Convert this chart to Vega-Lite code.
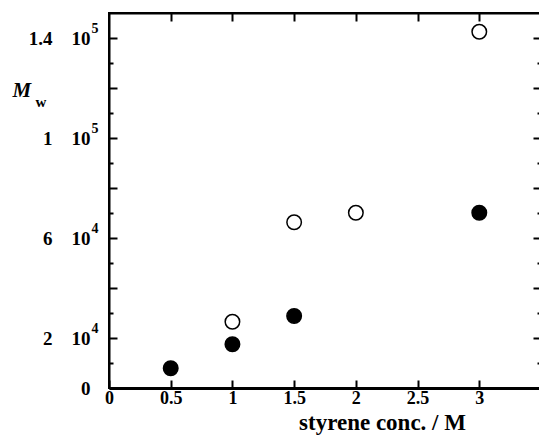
{
  "$schema": "https://vega.github.io/schema/vega-lite/v6.json",
  "width": 432,
  "height": 375,
  "autosize": "none",
  "padding": {"left": 109, "top": 13, "right": 0, "bottom": 48},
  "background": "white",
  "config": {
    "view": {"stroke": "black", "strokeWidth": 2},
    "font": "Liberation Serif",
    "axis": {"grid": false, "domainColor": "black", "tickColor": "black", "labelColor": "black", "titleColor": "black", "labelFont": "Liberation Serif", "titleFont": "Liberation Serif"}
  },
  "data": {
    "values": [
      {"conc": 1, "Mw": 26500, "series": "open"},
      {"conc": 1.5, "Mw": 66300, "series": "open"},
      {"conc": 2, "Mw": 70100, "series": "open"},
      {"conc": 3, "Mw": 142500, "series": "open"},
      {"conc": 0.5, "Mw": 7900, "series": "filled"},
      {"conc": 1, "Mw": 17500, "series": "filled"},
      {"conc": 1.5, "Mw": 28800, "series": "filled"},
      {"conc": 3, "Mw": 70100, "series": "filled"}
    ]
  },
  "layer": [
    {
      "mark": {"type": "point", "shape": "circle", "filled": true, "stroke": "black", "strokeWidth": 1.5, "opacity": 1, "size": 210},
      "encoding": {
        "x": {
          "field": "conc", "type": "quantitative",
          "scale": {"domain": [0, 3.5], "nice": false, "zero": false},
          "axis": {
            "orient": "bottom",
            "values": [0, 0.5, 1, 1.5, 2, 2.5, 3],
            "labelExpr": "'' + datum.value",
            "tickSize": -8, "tickWidth": 2, "domainWidth": 3,
            "labelFontSize": 18, "labelFontWeight": "bold", "labelPadding": 9,
            "labelFlush": false,
            "title": "styrene conc. / M",
            "titleFontSize": 23, "titleFontWeight": "bold",
            "titleX": 273, "titleY": 41, "titleBaseline": "alphabetic", "titleAlign": "center"
          }
        },
        "y": {
          "field": "Mw", "type": "quantitative",
          "scale": {"domain": [0, 150000], "nice": false},
          "axis": {
            "orient": "left",
            "values": [0, 10000, 20000, 30000, 40000, 50000, 60000, 70000, 80000, 90000, 100000, 110000, 120000, 130000, 140000],
            "labelExpr": "datum.value == 0 ? '0' : datum.value == 20000 ? '2\u00a0\u00a0\u00a0\u00a010' : datum.value == 60000 ? '6\u00a0\u00a0\u00a0\u00a010' : datum.value == 100000 ? '1\u00a0\u00a0\u00a0\u00a010' : datum.value == 140000 ? '1.4\u00a0\u00a0\u00a0\u00a010' : ''",
            "tickSize": {"condition": {"test": "datum.value % 20000 === 0", "value": -8}, "value": -4},
            "tickWidth": 2, "domainWidth": 2,
            "labelFontSize": 19, "labelFontWeight": "bold", "labelPadding": 27,
            "labelFlush": false,
            "title": "M",
            "titleAngle": 0, "titleFontSize": 21, "titleFontWeight": "bold", "titleFontStyle": "italic",
            "titleX": -97, "titleY": 83, "titleAlign": "left", "titleBaseline": "alphabetic"
          }
        },
        "fill": {
          "field": "series", "type": "nominal",
          "scale": {"domain": ["open", "filled"], "range": ["white", "black"]},
          "legend": null
        }
      }
    },
    {
      "mark": {"type": "point", "opacity": 0},
      "encoding": {
        "x": {
          "field": "conc", "type": "quantitative",
          "axis": {
            "orient": "top", "labels": false, "title": null,
            "values": [0.5, 1, 1.5, 2, 2.5, 3],
            "tickSize": -8, "tickWidth": 2, "domainWidth": 2
          }
        },
        "y": {
          "field": "Mw", "type": "quantitative",
          "axis": {
            "orient": "right", "labels": false,
            "values": [10000, 20000, 30000, 40000, 50000, 60000, 70000, 80000, 90000, 100000, 110000, 120000, 130000, 140000],
            "tickSize": {"condition": {"test": "datum.value % 20000 === 0", "value": -8}, "value": -4},
            "tickWidth": 2, "domainWidth": 2,
            "title": "w",
            "titleAngle": 0, "titleFontSize": 15, "titleFontWeight": "bold",
            "titleX": -506, "titleY": 93, "titleAlign": "left", "titleBaseline": "alphabetic"
          }
        }
      }
    },
    {
      "mark": {"type": "point", "opacity": 0},
      "encoding": {
        "y": {
          "field": "Mw", "type": "quantitative",
          "axis": {
            "orient": "left", "ticks": false, "domain": false, "title": null,
            "values": [20000, 60000, 100000, 140000],
            "labelExpr": "datum.value < 90000 ? '4' : '5'",
            "labelAlign": "left", "labelPadding": 18, "labelOffset": -10,
            "labelFontSize": 14, "labelFontWeight": "bold", "labelFlush": false
          }
        }
      }
    }
  ],
  "resolve": {"axis": {"x": "independent", "y": "independent"}}
}
